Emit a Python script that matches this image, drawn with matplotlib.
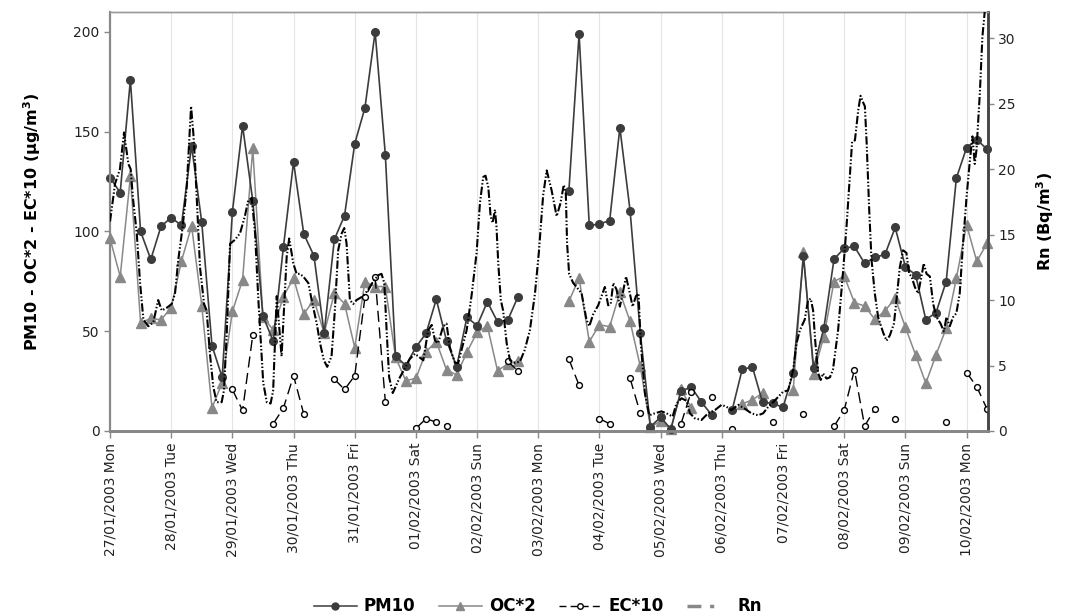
import numpy as np
import matplotlib
matplotlib.use("Agg")
import matplotlib.pyplot as plt
from matplotlib.lines import Line2D

nan = float("nan")

# 4-hourly samples, 27/01/2003 00h -> 10/02/2003 08h
pm10 = [127, 119.5, 176, 100, 86, 102.5, 107, 103, 143, 104.5,
        42.8, 26.9, 109.7, 153, 115.4, 57.7, 45, 92, 134.8, 98.8,
        87.8, 49, 96, 108, 144, 162, 200, 138.5, 37.6, 32.8,
        42, 49, 66, 45.3, 32.3, 57, 52.8, 64.7, 54.8, 55.5,
        67.2, nan, nan, nan, nan, 120.4, 199, 103, 103.7, 105.5,
        152, 110.5, 49.2, 2.2, 6.9, 1, 20, 22, 14.5, 8,
        nan, 10.3, 31, 32, 14.3, 13.9, 11.8, 29.3, 87.6, 31.5,
        51.5, 86.1, 91.6, 92.5, 84, 87, 88.5, 102, 82.2, 78.3,
        55.8, 59.3, 74.9, 126.8, 142, 146, 141.3]

oc2 = [96.5, 77.4, 127.6, 54.2, 56.5, 55.7, 61.8, 85, 102.8, 62.8,
       11.6, 24.2, 59.9, 75.7, 141.6, 57, 50.7, 67.4, 76.6, 58.7,
       65.7, 49, 69, 63.8, 41.8, 74.9, 72.4, 72.4, 37, 25.2,
       26.4, 39.8, 44.8, 30.6, 28.1, 39.5, 49.5, 52.7, 30.3, 33.5,
       35.2, nan, nan, nan, nan, 65, 76.6, 44.8, 53.2, 52.3,
       69.5, 55, 32.4, 2, 5, 1, 20.8, 11.7, nan, nan,
       nan, nan, 13.5, 15.7, 19, nan, nan, 20.6, 89.5, 28.8,
       47.3, 74.9, 77.6, 64.4, 62.6, 56, 60.2, 66.6, 52, 38.1,
       23.9, 38.1, 51.5, 76.6, 103.3, 85, 94]

ec10 = [nan, nan, nan, nan, nan, nan, nan, nan, nan, nan,
        nan, nan, 20.8, 10.3, 48, nan, 3.6, 11.4, 27.7, 8.5,
        nan, nan, 26, 20.8, 27.7, 67, 77, 14.7, nan, nan,
        1.3, 6.2, 4.4, 2.7, nan, nan, nan, nan, nan, 35.1,
        30, nan, nan, nan, nan, 36, 22.9, nan, 6.2, 3.6,
        nan, 26.4, 8.9, nan, nan, nan, 3.7, 19.7, nan, 17.2,
        nan, 1.2, nan, nan, nan, 4.7, nan, nan, 8.4, nan,
        nan, 2.3, 10.5, 30.6, 2.5, 11, nan, 6, nan, nan,
        nan, nan, 4.7, nan, 29.3, 22.2, 11]

# radon, hours from 27/01/2003 00h
rn_hours = [0, 2.0, 3.9, 5.5, 7.2, 8.1, 9.1, 10.5, 11.8, 13.1, 15.0, 17.0, 18.9,
            20.3, 22.2, 24.2, 25.5, 26.8, 28.5, 30.1, 31.1, 31.8, 32.7, 33.3, 34.2,
            35.3, 36.9, 37.9, 39.2, 40.5, 41.8, 43.8, 44.7, 45.8, 47.1, 49.0, 51.0,
            52.9, 54.2, 55.6, 56.9, 58.2, 60.1, 61.5, 63.0, 64.0, 65.4, 67.3, 69.3,
            70.3, 71.9, 73.2, 74.5, 75.8, 77.8, 79.1, 81.1, 82.4, 83.9, 85.2, 86.9,
            88.2, 89.5, 90.9, 91.9, 92.8, 94.1, 95.4, 96.7, 99.3, 101.3, 103.2, 105.2,
            106.5, 107.6, 108.5, 109.5, 110.9, 113.7, 115.7, 117.6, 119.6, 122.9, 124.8,
            126.2, 127.5, 128.7, 130.7, 132.0, 133.3, 135.3, 136.6, 137.9, 139.9, 141.8,
            143.8, 145.1, 146.4, 147.3, 148.4, 149.3, 150.1, 151.0, 151.6, 152.3, 153.3,
            154.2, 155.6, 156.9, 158.8, 160.8, 162.7, 164.7, 166.7, 168.2, 169.9, 171.3,
            173.2, 175.2, 176.7, 178.0, 178.8, 179.3, 180.1, 181.7, 183.0, 185.0, 186.9,
            188.0, 189.5, 191.5, 192.8, 194.1, 195.4, 196.4, 197.4, 198.7, 200.0, 201.1,
            202.4, 203.6, 205.0, 206.3, 207.3, 208.2, 209.8, 211.5, 213.7, 216.3, 218.3,
            220.7, 222.2, 224.2, 226.2, 227.5, 229.4, 232.0, 234.6, 237.3, 239.9, 241.8,
            243.8, 246.4, 249.0, 251.6, 254.2, 256.2, 258.2, 260.1, 262.1, 264.0, 266.0,
            268.0, 269.3, 270.6, 272.5, 273.8, 274.9, 275.8, 276.7, 277.8, 278.8, 279.7,
            281.1, 282.4, 283.6, 285.6, 287.6, 288.9, 290.2, 291.1, 292.2, 293.5, 294.4,
            295.4, 296.1, 296.8, 297.8, 298.7, 300.0, 301.3, 303.3, 304.6, 305.9, 307.5,
            308.5, 309.8, 311.1, 312.4, 313.5, 314.4, 315.7, 317.0, 318.3, 319.2, 320.3,
            321.6, 322.9, 324.2, 325.8, 327.1, 328.1, 329.4, 330.7, 332.0, 333.3, 334.6,
            336.0, 337.3, 338.3, 339.2, 339.9, 341.2, 342.2, 343.1, 344.4]
rn = [16.0, 18.9, 20.0, 22.8, 20.4, 20.0, 17.6, 15.1, 11.3, 8.5, 8.0, 8.3, 10.0,
      9.2, 9.4, 9.7, 10.5, 13.1, 15.6, 18.6, 22.2, 24.8, 22.7, 20.7, 17.1,
      12.5, 9.7, 9.2, 5.9, 3.4, 2.2, 2.2, 3.1, 7.5, 14.3, 14.6, 15.1,
      16.4, 17.6, 17.8, 15.1, 10.0, 3.7, 2.2, 2.1, 3.1, 10.3, 5.7, 13.3,
      14.7, 12.8, 12.0, 12.0, 11.8, 11.3, 10.0, 8.2, 6.7, 5.4, 4.9, 5.7,
      9.2, 13.8, 15.1, 15.5, 14.3, 10.0, 9.7, 10.0, 10.3, 10.8, 11.4, 11.9,
      12.0, 11.3, 7.7, 4.1, 2.9, 4.1, 4.8, 5.5, 5.9, 5.4, 7.7,
      8.1, 6.9, 6.7, 8.0, 8.2, 6.4, 5.2, 5.2, 6.2, 7.7, 10.3,
      13.6, 17.4, 19.4, 19.5, 18.6, 16.4, 15.9, 16.9, 15.6, 12.8, 10.0,
      9.2, 6.7, 5.4, 5.2, 5.3, 6.2, 7.7, 10.5, 13.6, 18.0, 19.9,
      18.4, 16.4, 17.4, 18.8, 18.1, 14.3, 12.0, 11.3, 11.0, 10.5, 8.5,
      8.0, 8.9, 9.6, 10.3, 11.0, 9.6, 9.7, 11.3, 10.8, 9.5, 10.5,
      11.8, 10.8, 9.5, 10.3, 10.5, 6.7, 2.9, 1.2, 1.35, 1.5, 1.35,
      1.1, 2.1, 2.5, 2.3, 1.35, 0.97, 0.84, 1.35, 1.6, 2.0, 1.85,
      1.6, 2.0, 1.7, 1.35, 1.2, 1.35, 1.85, 2.2, 2.6, 3.0, 3.1,
      4.7, 6.7, 7.7, 8.5, 10.0, 10.1, 9.2, 6.7, 4.4, 3.9, 4.4,
      4.0, 4.1, 4.7, 7.7, 12.3, 15.6, 19.4, 22.1, 22.2, 24.5, 25.6,
      25.1, 24.8, 22.0, 16.9, 13.1, 10.5, 8.7, 7.5, 6.9, 7.3, 8.2,
      10.0, 12.5, 13.8, 13.6, 12.0, 11.8, 11.0, 10.5, 11.8, 12.8, 12.0,
      11.8, 9.7, 8.7, 8.2, 7.6, 8.7, 8.0, 8.7, 9.0, 10.5, 14.3,
      17.9, 20.7, 22.5, 20.4, 21.5, 25.8, 30.1, 32.0, 34.0]

day_labels = ["27/01/2003 Mon", "28/01/2003 Tue", "29/01/2003 Wed", "30/01/2003 Thu",
              "31/01/2003 Fri", "01/02/2003 Sat", "02/02/2003 Sun", "03/02/2003 Mon",
              "04/02/2003 Tue", "05/02/2003 Wed", "06/02/2003 Thu", "07/02/2003 Fri",
              "08/02/2003 Sat", "09/02/2003 Sun", "10/02/2003 Mon"]

t = np.arange(len(pm10)) / 6.0
t_rn = np.array(rn_hours) / 24.0

fig = plt.figure(figsize=(10.65, 6.15), dpi=100)
ax = fig.add_axes([110 / 1065, 1 - 431 / 615, 878 / 1065, 419 / 615])

ax.set_xlim(0, 14.35)
ax.set_ylim(0, 210)

for d in range(len(day_labels)):
    ax.axvline(d, color="#e4e4e4", lw=0.8, zorder=0)

ax.plot(t, oc2, color="#888888", lw=1.1, marker="^", ms=6.5,
        mec="#888888", mfc="#888888", zorder=3, clip_on=False)
ax.plot(t, pm10, color="#3c3c3c", lw=1.2, marker="o", ms=5.5,
        mec="#3c3c3c", mfc="#3c3c3c", zorder=4, clip_on=False)
ax.plot(t, ec10, color="black", lw=1.0, dashes=(8, 4), marker="o", ms=4.2,
        mec="black", mfc="white", mew=1.0, zorder=5)

ax2 = ax.twinx()
ax2.set_ylim(0, 32)
ax2.plot(t_rn, rn, color="black", lw=1.5,
         dashes=(4, 1, 0.7, 1, 0.7, 1), zorder=6)

ax.set_xticks(range(len(day_labels)))
ax.set_xticklabels(day_labels, rotation=90, fontsize=10, color="#222222")
ax.set_yticks([0, 50, 100, 150, 200])
ax.tick_params(axis="y", labelsize=10, colors="#888888", labelcolor="#222222",
               length=4, width=1)
ax.tick_params(axis="x", colors="#888888", labelcolor="#222222", length=5, width=1)
ax2.set_yticks([0, 5, 10, 15, 20, 25, 30])
ax2.tick_params(axis="y", labelsize=10, colors="#888888", labelcolor="#222222",
                length=4, width=1)

for a in (ax, ax2):
    a.spines["left"].set_color("#888888")
    a.spines["left"].set_linewidth(1.5)
    a.spines["bottom"].set_color("#888888")
    a.spines["bottom"].set_linewidth(2)
    a.spines["top"].set_color("#9a9a9a")
    a.spines["top"].set_linewidth(1)
    a.spines["right"].set_color("#444444")
    a.spines["right"].set_linewidth(1.8)

ax.set_ylabel("PM10 - OC*2 - EC*10 (μg/m$^{\\mathbf{3}}$)", fontsize=11.5,
              fontweight="bold", labelpad=22)
ax2.set_ylabel("Rn (Bq/m$^{\\mathbf{3}}$)", fontsize=11.5, fontweight="bold",
               labelpad=13)

handles = [
    Line2D([], [], color="#3c3c3c", lw=1.1, marker="o", ms=5, mfc="#3c3c3c"),
    Line2D([], [], color="#888888", lw=1.1, marker="^", ms=6, mfc="#888888"),
    Line2D([], [], color="black", lw=1.0, dashes=(5, 3), marker="o", ms=4,
           mfc="white"),
    Line2D([], [], color="#888888", lw=2.5, dashes=(4, 2.5, 1.2, 20)),
]
fig.legend(handles, ["PM10", "OC*2", "EC*10", "Rn"], loc="lower center",
           bbox_to_anchor=(0.505, -0.025), ncol=4, frameon=False,
           prop={"weight": "bold", "size": 12}, handlelength=2.6,
           handletextpad=0.4, columnspacing=1.4)

fig.savefig("out.png", dpi=100)
